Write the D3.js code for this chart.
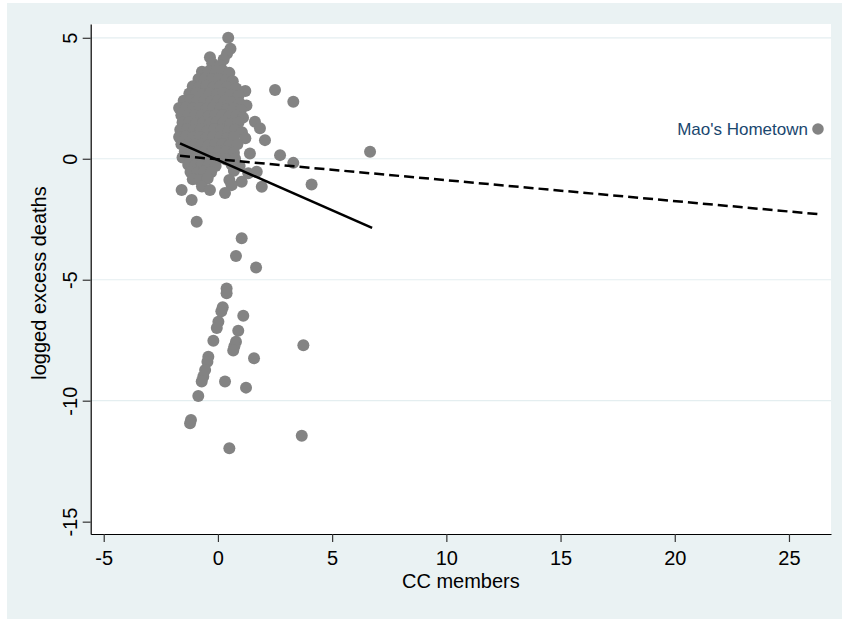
<!DOCTYPE html>
<html>
<head>
<meta charset="utf-8">
<script src="https://cdn.jsdelivr.net/npm/d3@7"></script>
<style>
  body { margin: 0; background: #fff; }
  svg text { font-family: "Liberation Sans", Arial, sans-serif; }
</style>
</head>
<body>
<div id="chart"></div>
<script>
// values
const xTicks = [-5, 0, 5, 10, 15, 20, 25];
const yTicks = [5, 0, -5, -10, -15];
const gridTicks = [5, 0, -5, -10];

// main cluster of prefectures [CC members, logged excess deaths]
const clusterPoints = [
  [0.45,5.0],[0.55,4.55],[0.4,4.35],[0.25,4.1],[-0.35,4.2],[-0.25,3.95],[0.1,3.85],
  [-0.7,3.6],[-0.4,3.62],[-0.1,3.58],[0.2,3.65],[0.5,3.55],
  [-0.85,3.3],[-0.55,3.32],[-0.25,3.28],[0.05,3.3],[0.35,3.25],[0.65,3.2],
  [-1.1,3.0],[-0.8,2.98],[-0.5,3.02],[-0.2,2.95],[0.1,3.0],[0.4,2.97],[0.8,2.9],[1.2,2.8],
  [-1.25,2.7],[-0.95,2.72],[-0.65,2.68],[-0.35,2.7],[-0.05,2.66],[0.25,2.72],[0.55,2.65],[0.9,2.6],
  [-1.5,2.4],[-1.2,2.42],[-0.9,2.38],[-0.6,2.4],[-0.3,2.36],[0,2.42],[0.3,2.4],[0.6,2.35],[0.95,2.3],[1.25,2.2],
  [-1.7,2.1],[-1.4,2.12],[-1.1,2.08],[-0.8,2.1],[-0.5,2.06],[-0.2,2.12],[0.1,2.1],[0.4,2.05],[0.7,2.08],[1.0,2.0],
  [-1.6,1.8],[-1.3,1.82],[-1.0,1.78],[-0.7,1.8],[-0.4,1.76],[-0.1,1.82],[0.2,1.8],[0.5,1.75],[0.8,1.78],[1.1,1.7],
  [-1.55,1.5],[-1.25,1.52],[-0.95,1.48],[-0.65,1.5],[-0.35,1.46],[-0.05,1.52],[0.25,1.5],[0.55,1.45],[0.9,1.5],[1.62,1.53],
  [-1.65,1.2],[-1.35,1.22],[-1.05,1.18],[-0.75,1.2],[-0.45,1.16],[-0.15,1.22],[0.15,1.2],[0.45,1.15],[0.75,1.2],[1.05,1.1],[1.84,1.26],
  [-1.7,0.9],[-1.4,0.92],[-1.1,0.88],[-0.8,0.9],[-0.5,0.86],[-0.2,0.92],[0.1,0.9],[0.4,0.85],[0.7,0.9],[1.2,0.85],[2.06,0.77],
  [-1.6,0.6],[-1.3,0.62],[-1.0,0.58],[-0.7,0.6],[-0.4,0.56],[-0.1,0.62],[0.2,0.6],[0.5,0.55],[0.85,0.6],
  [-1.45,0.3],[-1.15,0.32],[-0.85,0.28],[-0.55,0.3],[-0.25,0.26],[0.05,0.32],[0.35,0.3],[0.7,0.25],[1.4,0.22],
  [-1.55,0.05],[-1.2,0.0],[-0.9,0.04],[-0.6,-0.02],[-0.3,0.03],[0.0,0.0],[0.35,-0.03],[0.75,0.0],[2.72,0.15],
  [-1.3,-0.25],[-1.0,-0.28],[-0.7,-0.22],[-0.4,-0.26],[-0.1,-0.3],[0.6,-0.25],[0.95,-0.3],[3.3,-0.17],
  [-1.2,-0.55],[-0.9,-0.58],[-0.6,-0.52],[-0.3,-0.56],[0.7,-0.5],[1.33,-0.6],[1.7,-0.54],
  [-1.1,-0.85],[-0.8,-0.88],[-0.45,-0.82],[0.5,-0.88],[1.04,-0.95],
  [-0.7,-1.15],[-0.35,-1.29],[0.6,-1.09],[0.31,-1.42],[1.92,-1.16],[4.1,-1.06],
  [-1.59,-1.29],[-1.15,-1.7],[-0.93,-2.6],
  [6.66,0.29],[2.5,2.84],[3.3,2.36]
];

// prefectures with large negative values
const lowerPoints = [
  [1.04,-3.29],[0.79,-4.02],[1.67,-4.49],[0.38,-5.36],[0.38,-5.56],[0.21,-6.14],[0.15,-6.3],
  [0.02,-6.74],[-0.05,-7.0],[-0.2,-7.52],[-0.42,-8.18],[-0.46,-8.39],[-0.56,-8.73],[-0.64,-9.0],
  [-0.71,-9.21],[-0.86,-9.81],[-1.18,-10.8],[-1.22,-10.93],[0.5,-11.97],[1.11,-6.49],[0.89,-7.11],
  [0.79,-7.56],[0.72,-7.75],[0.67,-7.93],[1.58,-8.25],[0.31,-9.21],[1.23,-9.46],[3.74,-7.71],[3.67,-11.45]
];

const maoPoint = [26.27, 1.23];
const maoLabel = "Mao's Hometown";

// fitted lines (endpoints)
const fitAll = [[-1.66, 0.12], [26.27, -2.29]];
const fitNoMao = [[-1.66, 0.64], [6.75, -2.86]];

const W = 842, H = 619;
const plot = {left: 90.7, right: 831, top: 24, bottom: 534};

const svg = d3.select("#chart").append("svg")
    .attr("width", W)
    .attr("height", H);

// graph region background
svg.append("rect")
    .attr("x", 7).attr("y", 3)
    .attr("width", W - 7).attr("height", H - 3)
    .attr("fill", "#eaf2f3");

svg.append("rect")
    .attr("x", plot.left).attr("y", plot.top)
    .attr("width", plot.right - plot.left).attr("height", plot.bottom - plot.top)
    .attr("fill", "#fff");

const x = d3.scaleLinear().domain([-5.57, 26.84]).range([plot.left, plot.right]);
const y = d3.scaleLinear().domain([-15.51, 5.57]).range([plot.bottom, plot.top]);

// grid
svg.append("g")
    .selectAll("line").data(gridTicks).enter().append("line")
    .attr("x1", plot.left).attr("x2", plot.right)
    .attr("y1", d => y(d)).attr("y2", d => y(d))
    .attr("stroke", "#e4eef0").attr("stroke-width", 1.2);

// axes (plain hyphen for negatives, like Stata)
const fmt = d => String(d);
const xAxis = svg.append("g")
    .attr("transform", `translate(0,${plot.bottom})`)
    .call(d3.axisBottom(x).tickValues(xTicks).tickFormat(fmt).tickSize(8).tickPadding(8).tickSizeOuter(0));
const yAxis = svg.append("g")
    .attr("transform", `translate(${plot.left},0)`)
    .call(d3.axisLeft(y).tickValues(yTicks).tickFormat(fmt).tickSize(8).tickPadding(8).tickSizeOuter(0));

[xAxis, yAxis].forEach(a => {
  a.select(".domain").attr("stroke", "#000").attr("stroke-width", 1.2);
  a.selectAll(".tick line").attr("stroke", "#333").attr("stroke-width", 1.2);
  a.selectAll(".tick text")
      .attr("font-size", 20)
      .attr("font-family", "Liberation Sans, Arial, sans-serif")
      .attr("fill", "#000");
});
xAxis.selectAll(".tick text").attr("dy", "0.75em");
// vertical y labels
yAxis.selectAll(".tick text")
    .attr("text-anchor", "middle")
    .attr("x", null).attr("dy", null)
    .attr("transform", "translate(-21,0) rotate(-90)")
    .attr("y", 0)
    .attr("dominant-baseline", "central");

// axis titles
svg.append("text")
    .attr("x", (plot.left + plot.right) / 2)
    .attr("y", 588)
    .attr("text-anchor", "middle")
    .attr("font-size", 20)
    .text("CC members");

svg.append("text")
    .attr("transform", `translate(39,${(plot.top + plot.bottom) / 2 + 4}) rotate(-90)`)
    .attr("text-anchor", "middle")
    .attr("dominant-baseline", "central")
    .attr("font-size", 20)
    .text("logged excess deaths");

// markers
const allPoints = clusterPoints.concat(lowerPoints);
svg.append("g")
    .selectAll("circle").data(allPoints).enter().append("circle")
    .attr("cx", d => x(d[0]))
    .attr("cy", d => y(d[1]))
    .attr("r", 6)
    .attr("fill", "#838383");

svg.append("circle")
    .attr("cx", x(maoPoint[0])).attr("cy", y(maoPoint[1]))
    .attr("r", 5.8).attr("fill", "#838383");

svg.append("text")
    .attr("x", x(maoPoint[0]) - 10)
    .attr("y", y(maoPoint[1]) + 6)
    .attr("text-anchor", "end")
    .attr("font-size", 17)
    .attr("fill", "#1a476f")
    .text(maoLabel);

// fit lines
const line = d3.line().x(d => x(d[0])).y(d => y(d[1]));
svg.append("path")
    .datum(fitAll)
    .attr("d", line)
    .attr("fill", "none")
    .attr("stroke", "#000")
    .attr("stroke-width", 2.5)
    .attr("stroke-dasharray", "10,5");

svg.append("path")
    .datum(fitNoMao)
    .attr("d", line)
    .attr("fill", "none")
    .attr("stroke", "#000")
    .attr("stroke-width", 2.5);
</script>
</body>
</html>
